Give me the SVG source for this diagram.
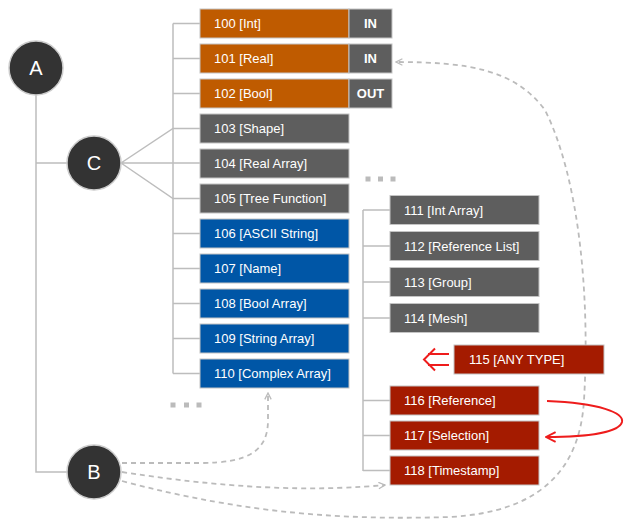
<svg xmlns="http://www.w3.org/2000/svg" width="637" height="530" viewBox="0 0 637 530">
<defs>
<style>
.tree{fill:none;stroke:#BDBDBD;stroke-width:1.5}
.dash{fill:none;stroke:#BBBBBB;stroke-width:1.8;stroke-dasharray:5 4}
.red{fill:none;stroke:#EE1C1C;stroke-width:2}
.box{stroke:#C4C4C4;stroke-width:1}
.or{fill:#BF5B00}
.gr{fill:#5E5E5E}
.bl{fill:#0056A6}
.rd{fill:#A41B00}
.t{font-family:"Liberation Sans",Arial,sans-serif;font-size:13px;fill:#FFFFFF}
.tb{font-family:"Liberation Sans",Arial,sans-serif;font-size:13px;font-weight:bold;fill:#FFFFFF;text-anchor:middle}
.circ{fill:#333333;stroke:#CCCCCC;stroke-width:1.5}
.ct{font-family:"Liberation Sans",Arial,sans-serif;font-size:20px;fill:#FFFFFF;text-anchor:middle}
.dot{fill:#BBBBBB}
</style>
<marker id="ga" viewBox="0 0 10 10" refX="9" refY="5" markerWidth="8" markerHeight="8" markerUnits="userSpaceOnUse" orient="auto">
<path d="M1,1 L9,5 L1,9" fill="none" stroke="#BBBBBB" stroke-width="1.6"/>
</marker>
<marker id="ra" viewBox="0 0 10 10" refX="9" refY="5" markerWidth="12" markerHeight="12" markerUnits="userSpaceOnUse" orient="auto">
<path d="M1,1 L9,5 L1,9" fill="none" stroke="#EE1C1C" stroke-width="1.6"/>
</marker>
</defs>
<g id="connectors">
<path class="tree" d="M36 95 V472 H67 M36 163 H67"/>
<path class="tree" d="M121 163 L173 128.5 H200 M121 163 H200 M121 163 L173 198.5 H200"/>
<path class="tree" d="M173 23.5 V373.5 M173 23.5 H200 M173 58.5 H200 M173 93.5 H200 M173 233.5 H200 M173 268.5 H200 M173 303.5 H200 M173 338.5 H200 M173 373.5 H200"/>
<path class="tree" d="M363 210 V471 M363 210 H390 M363 246 H390 M363 282 H390 M363 318 H390 M363 400.5 H390 M363 435.5 H390 M363 470.5 H390"/>
<path class="dash" marker-end="url(#ga)" d="M122 463 H200 C250 463 268 450 268 420 L268 393"/>
<path class="dash" marker-end="url(#ga)" d="M122 472 C250 492 330 490 385 485"/>
<path class="dash" marker-end="url(#ga)" d="M122 481 C250 515 350 520 450 517 C540 512 580 470 584 400 C590 300 580 180 545 110 C515 70 470 62 396 62"/>
<path class="red" marker-end="url(#ra)" d="M547 401 C600 403 624 413 622 422 C619 432 590 437 546 437"/>
<path class="red" d="M435 348.5 L424 359.5 L435 370.5 M428 354 H449 M428 365 H449"/>
</g>
<g id="dots">
<rect class="dot" x="170.5" y="402.5" width="5" height="5"/>
<rect class="dot" x="184" y="402.5" width="5" height="5"/>
<rect class="dot" x="196.5" y="402.5" width="5" height="5"/>
<rect class="dot" x="365.5" y="176.5" width="5" height="5"/>
<rect class="dot" x="378" y="176.5" width="5" height="5"/>
<rect class="dot" x="390.5" y="176.5" width="5" height="5"/>
</g>
<g id="nA"><circle class="circ" cx="36" cy="68" r="27"/><text class="ct" x="36" y="75">A</text></g>
<g id="nC"><circle class="circ" cx="94" cy="163" r="27"/><text class="ct" x="94" y="170">C</text></g>
<g id="nB"><circle class="circ" cx="94" cy="472" r="27"/><text class="ct" x="94" y="479">B</text></g>
<g id="n100"><rect class="box or" x="200" y="9" width="149" height="29"/><rect class="box gr" x="349" y="9" width="43" height="29"/><text class="t" x="214" y="28">100 [Int]</text><text class="tb" x="370.5" y="28">IN</text></g>
<g id="n101"><rect class="box or" x="200" y="44" width="149" height="29"/><rect class="box gr" x="349" y="44" width="43" height="29"/><text class="t" x="214" y="63">101 [Real]</text><text class="tb" x="370.5" y="63">IN</text></g>
<g id="n102"><rect class="box or" x="200" y="79" width="149" height="29"/><rect class="box gr" x="349" y="79" width="43" height="29"/><text class="t" x="214" y="98">102 [Bool]</text><text class="tb" x="370.5" y="98">OUT</text></g>
<g id="n103"><rect class="box gr" x="200" y="114" width="149" height="29"/><text class="t" x="214" y="133">103 [Shape]</text></g>
<g id="n104"><rect class="box gr" x="200" y="149" width="149" height="29"/><text class="t" x="214" y="168">104 [Real Array]</text></g>
<g id="n105"><rect class="box gr" x="200" y="184" width="149" height="29"/><text class="t" x="214" y="203">105 [Tree Function]</text></g>
<g id="n106"><rect class="box bl" x="200" y="219" width="149" height="29"/><text class="t" x="214" y="238">106 [ASCII String]</text></g>
<g id="n107"><rect class="box bl" x="200" y="254" width="149" height="29"/><text class="t" x="214" y="273">107 [Name]</text></g>
<g id="n108"><rect class="box bl" x="200" y="289" width="149" height="29"/><text class="t" x="214" y="308">108 [Bool Array]</text></g>
<g id="n109"><rect class="box bl" x="200" y="324" width="149" height="29"/><text class="t" x="214" y="343">109 [String Array]</text></g>
<g id="n110"><rect class="box bl" x="200" y="359" width="149" height="29"/><text class="t" x="214" y="378">110 [Complex Array]</text></g>
<g id="n111"><rect class="box gr" x="390" y="195.5" width="149" height="29"/><text class="t" x="404" y="214.5">111 [Int Array]</text></g>
<g id="n112"><rect class="box gr" x="390" y="231.5" width="149" height="29"/><text class="t" x="404" y="250.5">112 [Reference List]</text></g>
<g id="n113"><rect class="box gr" x="390" y="267.5" width="149" height="29"/><text class="t" x="404" y="286.5">113 [Group]</text></g>
<g id="n114"><rect class="box gr" x="390" y="303.5" width="149" height="29"/><text class="t" x="404" y="322.5">114 [Mesh]</text></g>
<g id="n115"><rect class="box rd" x="454" y="345" width="150" height="29"/><text class="t" x="469" y="364">115 [ANY TYPE]</text></g>
<g id="n116"><rect class="box rd" x="390" y="386" width="149" height="29"/><text class="t" x="404" y="405">116 [Reference]</text></g>
<g id="n117"><rect class="box rd" x="390" y="421" width="149" height="29"/><text class="t" x="404" y="440">117 [Selection]</text></g>
<g id="n118"><rect class="box rd" x="390" y="456" width="149" height="29"/><text class="t" x="404" y="475">118 [Timestamp]</text></g>
</svg>
